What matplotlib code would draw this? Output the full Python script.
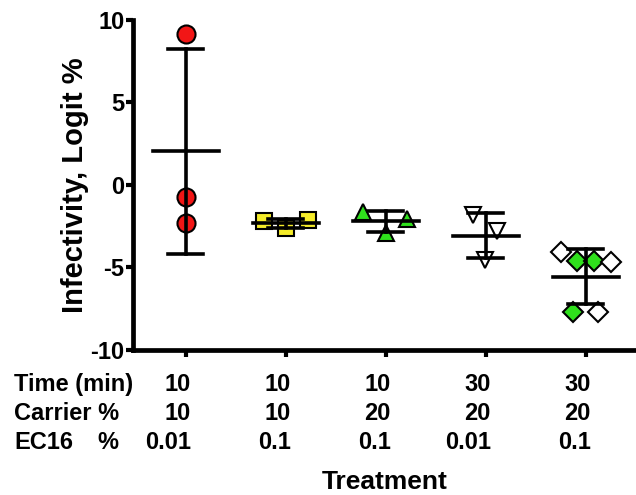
import numpy as np
import matplotlib
matplotlib.use('Agg')
from matplotlib import pyplot as plt

plt.rcParams['font.family'] = ['Liberation Sans', 'DejaVu Sans']
plt.rcParams['font.weight'] = 'bold'
plt.rcParams['axes.unicode_minus'] = False

# values per treatment (logit %)
g1 = [9.16, -0.74, -2.32]
g2 = [-2.18, -2.64, -2.15]
g3 = [-1.64, -2.91, -2.08]
g4 = [-1.85, -2.80, -4.55]
g5 = [-4.07, -4.64, -4.64, -4.68, -7.71, -7.71]
g5_green = [False, True, True, False, True, False]

time_min = ['10', '10', '10', '30', '30']
carrier = ['10', '10', '20', '20', '20']
ec16 = ['0.01', '0.1', '0.1', '0.01', '0.1']

# horizontal scatter of points inside each column
off1 = [0, 0, 0]
off2 = [-0.22, 0, 0.22]
off3 = [-0.23, 0, 0.21]
off4 = [-0.13, 0.11, -0.01]
off5 = [-0.25, -0.09, 0.08, 0.25, -0.13, 0.12]

fig = plt.figure(figsize=(6.36, 4.95), dpi=100)
ax = fig.add_axes([0.209, 0.293, 0.791, 0.667])

edge = dict(markeredgecolor='black', markeredgewidth=1.5, linestyle='none', zorder=3)
ax.plot(0 + np.array(off1), g1, 'o', ms=13, markerfacecolor='#f21616', **edge)
ax.plot(1 + np.array(off2), g2, 's', ms=11, markerfacecolor='#f5ec2a', **edge)
ax.plot(2 + np.array(off3), g3, '^', ms=12, markerfacecolor='#2fe01c', **edge)
ax.plot(3 + np.array(off4), g4, 'v', ms=12, markerfacecolor='white', **edge)
x5 = 4 + np.array(off5)
g5 = np.array(g5)
green = np.array(g5_green)
ax.plot(x5[green], g5[green], 'D', ms=10.5, markerfacecolor='#2fe01c', **edge)
ax.plot(x5[~green], g5[~green], 'D', ms=10.5, markerfacecolor='white', **edge)

# mean +/- SD bars
lw = 2.6
for i, g in enumerate([g1, g2, g3, g4, g5]):
    m = np.mean(g)
    sd = np.std(g, ddof=1)
    ax.plot([i, i], [m - sd, m + sd], color='black', lw=lw, zorder=4)
    ax.plot([i - 0.33, i + 0.33], [m, m], color='black', lw=lw, zorder=4)
    for y in (m - sd, m + sd):
        ax.plot([i - 0.175, i + 0.175], [y, y], color='black', lw=lw, zorder=4)

ax.set_xlim(-0.53, 4.5)
ax.set_ylim(-10, 10)
ax.set_yticks([-10, -5, 0, 5, 10])
ax.set_xticks(range(5))
ax.set_xticklabels([])
ax.spines['top'].set_visible(False)
ax.spines['right'].set_visible(False)
ax.spines['left'].set_linewidth(3.4)
ax.spines['bottom'].set_linewidth(3.4)
ax.tick_params(axis='y', direction='out', length=5, width=3, labelsize=17, pad=1)
ax.tick_params(axis='x', direction='out', length=5, width=3)
for lab in ax.get_yticklabels():
    lab.set_fontweight('bold')

ax.set_ylabel('Infectivity, Logit %', fontsize=21, fontweight='bold', labelpad=1)

# treatment table under the axis
rows_y = [-0.124, -0.212, -0.300]
for i in range(5):
    for yy, txt in zip(rows_y, [time_min[i], carrier[i], ec16[i]]):
        ax.text(i + 0.05, yy, txt, transform=ax.get_xaxis_transform(),
                ha='right', va='baseline', fontsize=17, fontweight='bold')

def fx(px):
    return px / 636

def fy(px):
    return 1 - px / 495

fig.text(fx(14), fy(391), 'Time (min)', ha='left', va='baseline', fontsize=17, fontweight='bold')
fig.text(fx(14), fy(420), 'Carrier %', ha='left', va='baseline', fontsize=17, fontweight='bold')
fig.text(fx(14), fy(449), 'EC16', ha='left', va='baseline', fontsize=17, fontweight='bold')
fig.text(fx(97), fy(449), '%', ha='left', va='baseline', fontsize=17, fontweight='bold')
fig.text(fx(385), fy(489), 'Treatment', ha='center', va='baseline', fontsize=19, fontweight='bold')

fig.savefig('out.png', dpi=100)
